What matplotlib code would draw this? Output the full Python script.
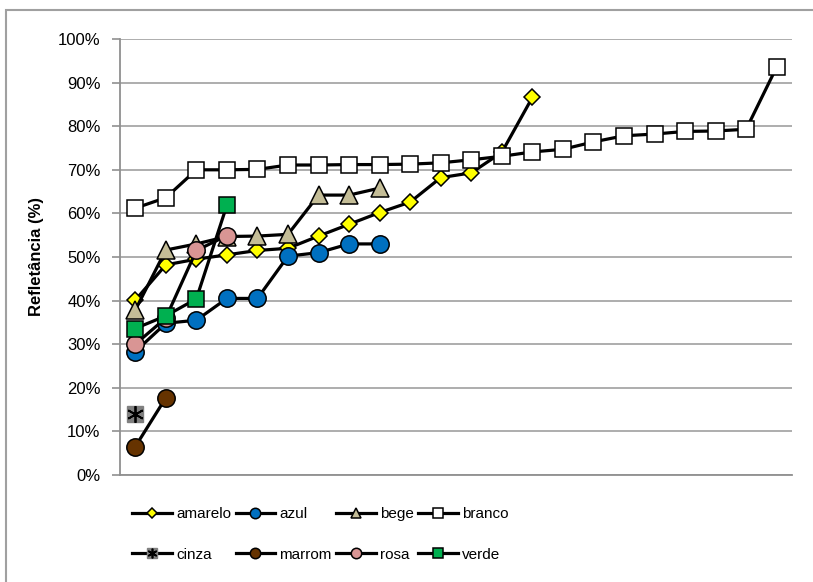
import matplotlib.pyplot as plt
from matplotlib.patches import Rectangle
from matplotlib.legend_handler import HandlerTuple
from matplotlib.lines import Line2D
from matplotlib.ticker import PercentFormatter

plt.rcParams.update(
    {
        "font.family": ["Liberation Sans Narrow", "Liberation Sans", "DejaVu Sans"],
        "font.size": 11,
    }
)

# Data (reflectance %, sorted per colour)
amarelo = [40.1, 48.2, 49.5, 50.5, 51.5, 52.0, 54.8, 57.5, 60.2, 62.6, 68.2, 69.3, 74.0, 86.6]
azul = [28.3, 34.8, 35.5, 40.5, 40.5, 50.2, 51.0, 53.0, 53.0]
bege = [37.8, 51.6, 53.0, 54.7, 54.8, 55.2, 64.2, 64.2, 65.8]
branco = [61.2, 63.6, 70.0, 70.0, 70.1, 71.1, 71.1, 71.2, 71.2, 71.3, 71.6, 72.3,
          73.1, 74.1, 74.7, 76.4, 77.8, 78.2, 78.8, 78.9, 79.3, 93.6]
cinza = [14.1]
marrom = [6.5, 17.7]
rosa = [30.0, 36.0, 51.5, 54.9]
verde = [33.6, 36.5, 40.4, 61.9]

n_categories = 22

lw = 2.3
mew = 1.1

fig = plt.figure(figsize=(8.13, 5.82), dpi=100)
ax = fig.add_axes([120 / 813, 1 - 475 / 582, 672 / 813, 436 / 582])

styles = {
    "amarelo": dict(marker="D", ms=8.5, mfc="#FFFF00"),
    "azul": dict(marker="o", ms=12.5, mfc="#0070C0"),
    "bege": dict(marker="^", ms=12.5, mfc="#C4BD97"),
    "branco": dict(marker="s", ms=12, mfc="white"),
    "marrom": dict(marker="o", ms=12.5, mfc="#663300"),
    "rosa": dict(marker="o", ms=12.5, mfc="#D99594"),
    "verde": dict(marker="s", ms=12, mfc="#00B050"),
}
series = {
    "amarelo": amarelo,
    "azul": azul,
    "bege": bege,
    "branco": branco,
    "marrom": marrom,
    "rosa": rosa,
    "verde": verde,
}

handles = {}
for name, vals in series.items():
    st = styles[name]
    xs = list(range(1, len(vals) + 1))
    ax.plot(xs, vals, color="black", lw=lw, marker=st["marker"],
            ms=st["ms"], mfc=st["mfc"], mec="black", mew=mew,
            label=name, zorder=3)
    handles[name] = Line2D([], [], color="black", lw=lw, marker=st["marker"],
                           ms=st["ms"] * 0.6, mfc=st["mfc"], mec="black", mew=mew)

# cinza: grey square with asterisk
xs_c = list(range(1, len(cinza) + 1))
ax.plot(xs_c, cinza, ls="none", marker="s", ms=12, mfc="#808080", mec="#808080", zorder=3)
ax.plot(xs_c, cinza, ls="none", marker=(6, 2, 0), ms=12, mec="black", mew=1.3, zorder=4)
h_c1 = Line2D([], [], color="black", lw=lw, marker="s", ms=7, mfc="#808080", mec="#808080")
h_c2 = Line2D([], [], ls="none", marker=(6, 2, 0), ms=7, mec="black", mew=1.2)
handles["cinza"] = (h_c1, h_c2)

ax.set_xlim(0.5, n_categories + 0.5)
ax.set_ylim(0, 100)
ax.set_yticks(range(0, 101, 10))
ax.yaxis.set_major_formatter(PercentFormatter(decimals=0))
ax.set_xticks([])
ax.grid(axis="y", color="#A0A0A0", lw=1.2)
ax.set_axisbelow(True)
for s in ["top", "right"]:
    ax.spines[s].set_visible(False)
for s in ["left", "bottom"]:
    ax.spines[s].set_color("#909090")
    ax.spines[s].set_linewidth(1.3)
ax.tick_params(axis="y", length=6, color="#909090", width=1.2, labelsize=12, pad=8)
ax.set_ylabel("Refletância (%)", fontsize=12, fontweight="bold", labelpad=10)

# legend, filled row-wise
order = ["amarelo", "cinza", "azul", "marrom", "bege", "rosa", "branco", "verde"]
ax.legend([handles[k] for k in order], order, ncol=4, frameon=False,
          loc="upper left", bbox_to_anchor=(-0.002, -0.042),
          handlelength=2.6, handletextpad=0.25, columnspacing=0.3,
          labelspacing=1.75, fontsize=11,
          handler_map={tuple: HandlerTuple(ndivide=1)})

fig.patches.append(Rectangle((6 / 813, -0.05), 1.2, 1 - 10 / 582 + 0.05,
                             transform=fig.transFigure, fill=False,
                             edgecolor="#A0A0A0", lw=1.5))

fig.savefig("out.png", dpi=100)
